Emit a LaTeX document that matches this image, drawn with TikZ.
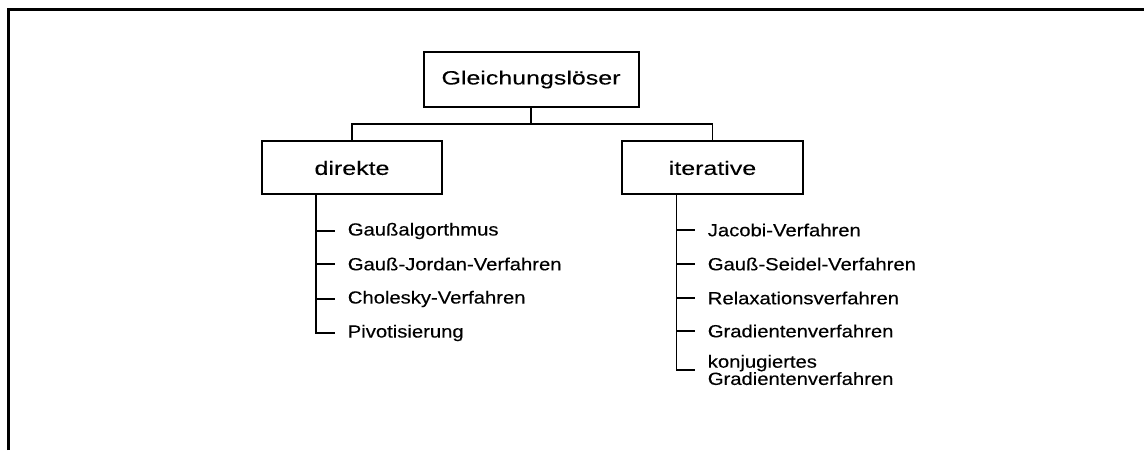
\documentclass[tikz,border=0pt]{standalone}
\usepackage{fontspec}
\setmainfont{Liberation Sans}[FakeStretch=1.15, FakeBold=0.3]
\newfontfamily\boxfont{Liberation Sans}[FakeStretch=1.3, FakeBold=0.2]
\tikzset{
    boxnode/.style={draw, line width=1pt, font=\boxfont\fontsize{9.6}{12}\selectfont},
    itemnode/.style={anchor=west, inner xsep=6pt, inner ysep=1pt, align=left,
        font=\fontsize{8.8}{8.6}\selectfont},
}
\begin{document}
\begin{tikzpicture}[x=0.5pt, y=0.5pt, line width=0.8pt]
    \useasboundingbox (0,0) rectangle (1144,450);
    \draw[line width=1.5pt] (8,0) -- (8,440) -- (1144,440);

    \node[boxnode, minimum width=107.5pt, minimum height=27.5pt] (top) at (531,370.5) {Gleichungslöser};
    \node[boxnode, minimum width=90pt, minimum height=26.5pt] (dir) at (352,282) {direkte};
    \node[boxnode, minimum width=90.5pt, minimum height=26.5pt] (iter) at (712.5,282) {iterative};

    \draw (top.south) -- ++(0,-16) -| (dir.north);
    \draw (top.south) -- ++(0,-16) -| (iter.north);

    % direkte Verfahren
    \coordinate (dl) at ([xshift=-18pt]dir.south);
    \node[itemnode] (d1) at (335,219) {Gaußalgorthmus};
    \node[itemnode] (d2) at (335,186) {Gauß-Jordan-Verfahren};
    \node[itemnode] (d3) at (335,151) {Cholesky-Verfahren};
    \node[itemnode] (d4) at (335,117) {Pivotisierung};
    \draw (dl) |- (d4.west);
    \foreach \n in {d1,d2,d3} \draw (\n.west -| dl) -- (\n.west);

    % iterative Verfahren
    \coordinate (il) at ([xshift=-18pt]iter.south);
    \node[itemnode] (i1) at (695,220) {Jacobi-Verfahren};
    \node[itemnode] (i2) at (695,186) {Gauß-Seidel-Verfahren};
    \node[itemnode] (i3) at (695,152) {Relaxationsverfahren};
    \node[itemnode] (i4) at (695,119) {Gradientenverfahren};
    \node[itemnode] (i5) at (695,80) {konjugiertes\\Gradientenverfahren};
    \draw (il) |- (i5.west);
    \foreach \n in {i1,i2,i3,i4} \draw (\n.west -| il) -- (\n.west);
\end{tikzpicture}
\end{document}
